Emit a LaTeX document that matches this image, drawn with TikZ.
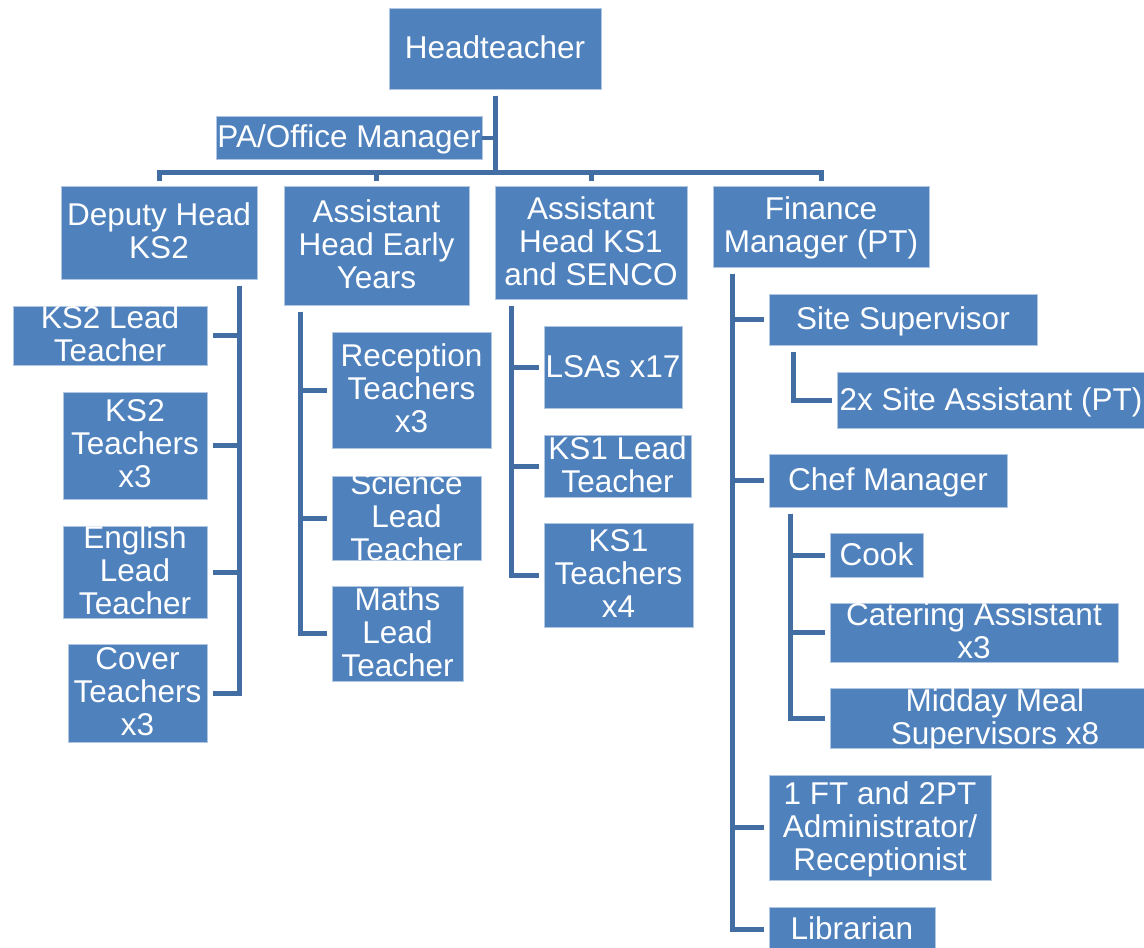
\documentclass[tikz,border=0pt]{standalone}
\usepackage{fontspec}
\setmainfont{Liberation Sans}
\definecolor{boxblue}{HTML}{4F81BD}
\definecolor{linkblue}{RGB}{66,110,163}
\tikzset{
  orgbox/.style={rectangle, fill=boxblue, draw=white!55!boxblue, line width=1pt,
                 inner sep=0pt, outer sep=0pt},
  orglabel/.style={text=white, align=center, inner sep=0pt, yshift=-3.4pt,
                   font=\fontsize{31.5}{33}\selectfont,
                   execute at begin node=\strut, execute at end node=\strut},
  conn/.style={draw=linkblue, line width=5pt, shorten <=6.5pt, shorten >=5.5pt},
}
\begin{document}
\begin{tikzpicture}[x=1pt, y=-1pt]
\useasboundingbox (0,0) rectangle (1144,948);
\fill[white] (0,0) rectangle (1144,948);
\clip (0,0) rectangle (1144,948);

% boxes: centre, width, height
\node[orgbox, minimum width=212, minimum height=81]  (head)     at (495,48.5)   {};
\node[orgbox, minimum width=266, minimum height=43]  (pa)       at (349,137.5)  {};
\node[orgbox, minimum width=196, minimum height=93]  (dep)      at (159,232.5)  {};
\node[orgbox, minimum width=185, minimum height=119] (ahey)     at (376.5,245.5){};
\node[orgbox, minimum width=192, minimum height=113] (ahks)     at (591,242.5)  {};
\node[orgbox, minimum width=216, minimum height=81]  (fin)      at (821,226.5)  {};
\node[orgbox, minimum width=194, minimum height=59]  (ks2lead)  at (110,335.5)  {};
\node[orgbox, minimum width=144, minimum height=107] (ks2t)     at (135,445.5)  {};
\node[orgbox, minimum width=144, minimum height=92]  (eng)      at (135,572)    {};
\node[orgbox, minimum width=139, minimum height=98]  (cover)    at (137.5,693)  {};
\node[orgbox, minimum width=159, minimum height=116] (rec)      at (411.5,390)  {};
\node[orgbox, minimum width=149, minimum height=84]  (sci)      at (406.5,518)  {};
\node[orgbox, minimum width=131, minimum height=95]  (maths)    at (397.5,633.5){};
\node[orgbox, minimum width=138, minimum height=82]  (lsa)      at (613,367)    {};
\node[orgbox, minimum width=147, minimum height=62]  (ks1lead)  at (617.5,466)  {};
\node[orgbox, minimum width=149, minimum height=104] (ks1t)     at (618.5,575)  {};
\node[orgbox, minimum width=268, minimum height=51]  (site)     at (903,319.5)  {};
\node[orgbox, minimum width=308, minimum height=56]  (siteasst) at (991,400)    {};
\node[orgbox, minimum width=238, minimum height=53]  (chef)     at (888,480.5)  {};
\node[orgbox, minimum width=93,  minimum height=44]  (cook)     at (876.5,555)  {};
\node[orgbox, minimum width=288, minimum height=59]  (cater)    at (974,632.5)  {};
\node[orgbox, minimum width=330, minimum height=60]  (midday)   at (995,718)    {};
\node[orgbox, minimum width=222, minimum height=105] (admin)    at (880,827.5)  {};
\node[orgbox, minimum width=166, minimum height=44]  (lib)      at (852,929)    {};

% labels
\node[orglabel] (head-t)     at (head)     {Headteacher};
\node[orglabel] (pa-t)       at (pa)       {PA/Office Manager};
\node[orglabel] (dep-t)      at (dep)      {Deputy Head\\KS2};
\node[orglabel] (ahey-t)     at (ahey)     {Assistant\\Head Early\\Years};
\node[orglabel] (ahks-t)     at (ahks)     {Assistant\\Head KS1\\and SENCO};
\node[orglabel] (fin-t)      at (fin)      {Finance\\Manager (PT)};
\node[orglabel] (ks2lead-t)  at (ks2lead)  {KS2 Lead\\Teacher};
\node[orglabel] (ks2t-t)     at (ks2t)     {KS2\\Teachers\\x3};
\node[orglabel] (eng-t)      at (eng)      {English\\Lead\\Teacher};
\node[orglabel] (cover-t)    at (cover)    {Cover\\Teachers\\x3};
\node[orglabel] (rec-t)      at (rec)      {Reception\\Teachers\\x3};
\node[orglabel] (sci-t)      at (sci)      {Science\\Lead\\Teacher};
\node[orglabel] (maths-t)    at (maths)    {Maths\\Lead\\Teacher};
\node[orglabel] (lsa-t)      at (lsa)      {LSAs x17};
\node[orglabel] (ks1lead-t)  at (ks1lead)  {KS1 Lead\\Teacher};
\node[orglabel] (ks1t-t)     at (ks1t)     {KS1\\Teachers\\x4};
\node[orglabel] (site-t)     at (site)     {Site Supervisor};
\node[orglabel] (siteasst-t) at (siteasst) {2x Site Assistant (PT)};
\node[orglabel] (chef-t)     at (chef)     {Chef Manager};
\node[orglabel] (cook-t)     at (cook)     {Cook};
\node[orglabel] (cater-t)    at (cater)    {Catering Assistant\\x3};
\node[orglabel] (midday-t)   at (midday)   {Midday Meal\\Supervisors x8};
\node[orglabel] (admin-t)    at (admin)    {1 FT and 2PT\\Administrator/\\Receptionist};
\node[orglabel] (lib-t)      at (lib)      {Librarian};

% headteacher to the senior team
\coordinate (bus) at (0,172);
\foreach \c in {dep,ahey,ahks,fin}
  \draw[conn] (head.south) -- (head.south |- bus) -| (\c.north);
\draw[draw=linkblue, line width=4pt] (pa.east) -- (pa.east -| head.south);

% deputy head trunk (right-hand side)
\foreach \c in {ks2lead,ks2t,eng,cover}
  \draw[conn] ([xshift=-17.5pt]dep.south east) |- (\c.east);
% early years trunk
\foreach \c in {rec,sci,maths}
  \draw[conn] ([xshift=16pt]ahey.south west) |- (\c.west);
% KS1 trunk
\foreach \c in {lsa,ks1lead,ks1t}
  \draw[conn] ([xshift=16.5pt]ahks.south west) |- (\c.west);
% finance trunk
\foreach \c in {site,chef,admin,lib}
  \draw[conn] ([xshift=19.5pt]fin.south west) |- (\c.west);
% site supervisor
\draw[conn] ([xshift=24pt]site.south west) |- (siteasst.west);
% chef manager
\foreach \c in {cook,cater,midday}
  \draw[conn] ([xshift=21pt]chef.south west) |- (\c.west);
\end{tikzpicture}
\end{document}
